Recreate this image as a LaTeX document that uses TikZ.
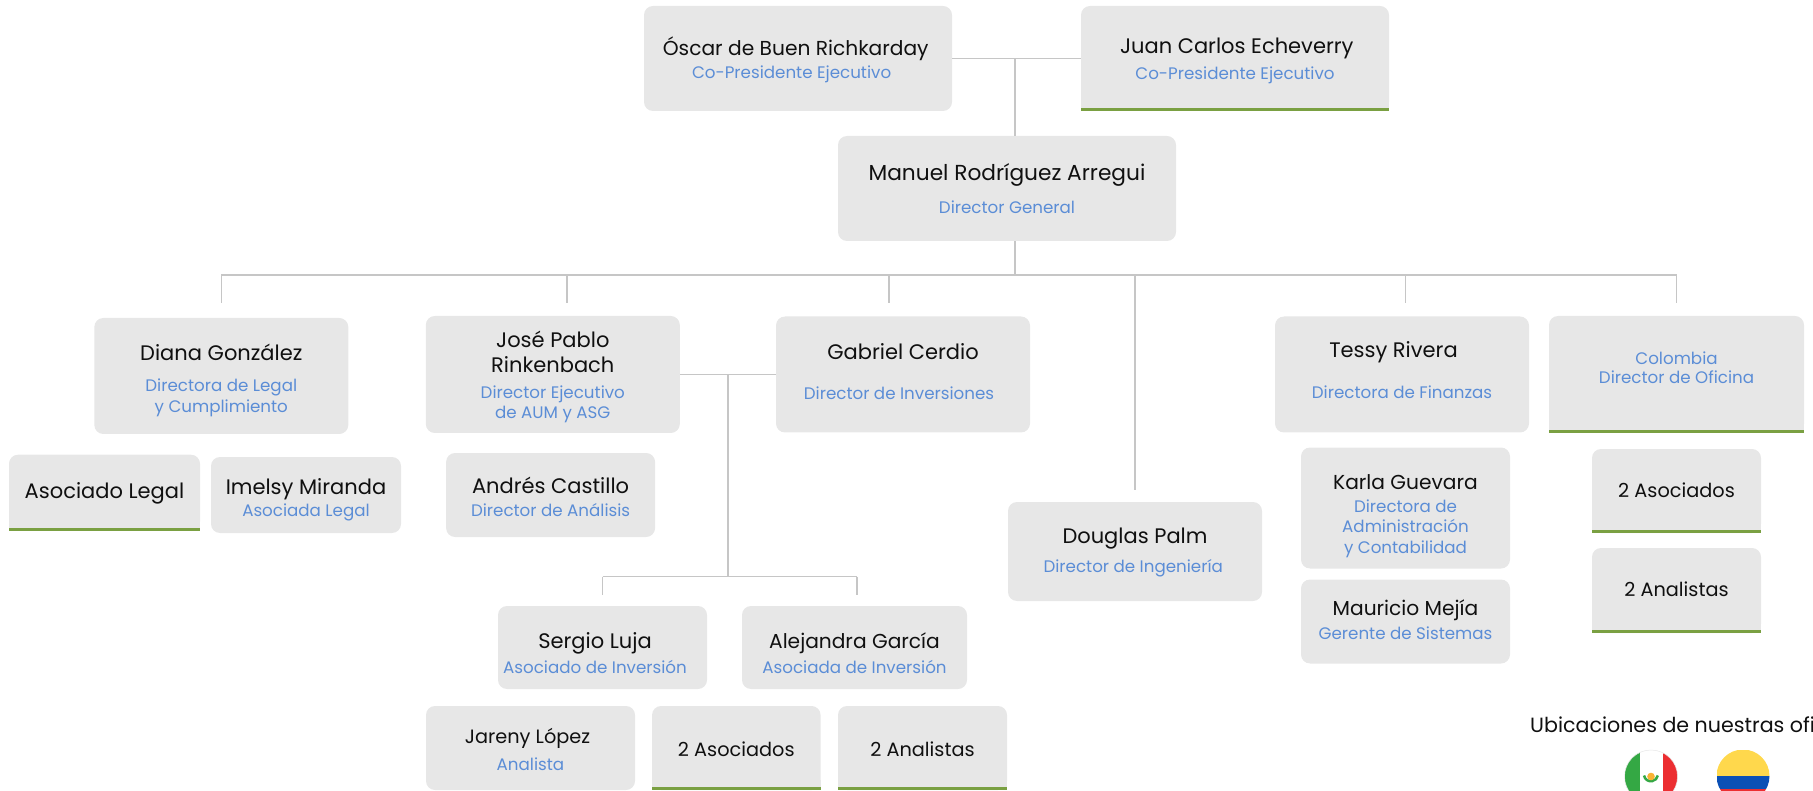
\documentclass[tikz,border=0pt]{standalone}
\usepackage{xcolor}
\usepackage{fontspec}
\setmainfont{Poppins}
\usepackage{tikz}
\usetikzlibrary{calc, positioning}
\definecolor{boxgray}{HTML}{E7E7E7}
\definecolor{bargreen}{HTML}{7AA042}
\definecolor{roleblue}{HTML}{5B8DD6}
\definecolor{linegray}{HTML}{C6C6C6}
\definecolor{namecolor}{HTML}{101010}
\definecolor{flaggreen}{HTML}{34A844}
\definecolor{flagred}{HTML}{EC2E31}
\definecolor{flagyellow}{HTML}{FFD84C}
\definecolor{flagblue}{HTML}{0B50B5}
\definecolor{flagorange}{HTML}{F9B233}
\newcommand{\namefont}{\fontsize{21}{26}\selectfont}
\newcommand{\bigname}{\fontsize{21.7}{26}\selectfont}
\newcommand{\midname}{\fontsize{20.2}{25}\selectfont}
\newcommand{\lowname}{\fontsize{19.3}{24}\selectfont}
\newcommand{\rolefont}{\color{roleblue}\fontsize{16.7}{20}\selectfont}
\newcommand{\downtext}[2]{\raisebox{0pt}[\dimexpr\height+2\dimexpr#1\relax\relax]{#2}}
\newcommand{\uptext}[2]{\raisebox{0pt}[\height][\dimexpr\depth+2\dimexpr#1\relax\relax]{#2}}
\tikzset{
    boxnode/.style = {draw=none, fill=boxgray, rectangle, rounded corners=0.9em, inner sep = 0em,
      node distance=0em, font=\namefont, text=namecolor},
    textnode/.style = {draw=none, fill=none, rectangle, inner sep = 0em, node distance=0em,
      font=\fontsize{20.6}{25}\selectfont, text=namecolor},
    flagnode/.style = {draw=none, circle, minimum size=5.3em, inner sep = 0em, node distance=0em},
    connect/.style = {draw=linegray, line width=1.5pt, line cap=square, -},
    every text node part/.style={align=center}
}
\begin{document}
\begin{tikzpicture}
    \path[use as bounding box, clip] (0em, 0em) rectangle (181.3em, -79.1em);

    \node [name=oscar, boxnode, font=\midname, minimum width=30.8em, minimum height=10.5em] at (79.8em, -5.85em) {\hspace*{-4.6pt}\downtext{1.2pt}{\'Oscar de Buen Richkarday}\\[-1.7pt]\rolefont\hspace*{-12.8pt}Co-Presidente Ejecutivo};
    \node [name=juan, boxnode, minimum width=30.8em, minimum height=10.5em, right of=oscar, xshift=43.7em] {\hspace*{3.5pt}\downtext{2.3pt}{Juan Carlos Echeverry}\\[-0.4pt]\rolefont Co-Presidente Ejecutivo};
    \node [name=manuel, boxnode, font=\bigname, minimum width=33.8em, minimum height=10.5em, below of=oscar, xshift=20.9em, yshift=-13em] {Manuel Rodr\'iguez Arregui\\[7.2pt]\rolefont Director General};

    \node [name=diana, boxnode, minimum width=25.4em, minimum height=11.6em, below of=manuel, xshift=-78.57em, yshift=-18.75em] {\downtext{4.4pt}{Diana Gonz\'alez}\\[5.6pt]\rolefont Directora de Legal\\[-5.4pt]\rolefont y Cumplimiento};
    \node [name=jose, boxnode, minimum width=25.4em, minimum height=11.7em, right of=diana, xshift=33.15em, yshift=0.15em] {\downtext{2.3pt}{Jos\'e Pablo}\\[-1.2pt]Rinkenbach\\\rolefont Director Ejecutivo\\[-6.4pt]\rolefont de AUM y ASG};
    \node [name=gabriel, boxnode, minimum width=25.4em, minimum height=11.6em, right of=jose, xshift=35.02em] {Gabriel Cerdio\\[13.8pt]\rolefont\hspace*{-8pt}\uptext{2.9pt}{Director de Inversiones}};
    \node [name=tessy, boxnode, minimum width=25.4em, minimum height=11.6em, right of=gabriel, xshift=49.9em] {\hspace*{-17pt}Tessy Rivera\\[14.9pt]\rolefont\uptext{4.6pt}{Directora de Finanzas}};
    \node [name=colombia, boxnode, minimum width=25.5em, minimum height=11.7em, right of=tessy, xshift=27.45em] {\rolefont Colombia\\[-6.4pt]\rolefont\uptext{6.9pt}{Director de Oficina}};
    \node [name=douglas, boxnode, minimum width=25.4em, minimum height=9.9em, below of=gabriel, xshift=23.2em, yshift=-17.7em] {\downtext{1.4pt}{Douglas Palm}\\[3pt]\rolefont\hspace*{-3.5pt}Director de Ingenier\'ia};

    \node [name=asoclegal, boxnode, minimum width=19.1em, minimum height=7.6em, below of=diana, xshift=-11.68em, yshift=-11.67em] {\downtext{1pt}{Asociado Legal}};
    \node [name=imelsy, boxnode, minimum width=19em, minimum height=7.6em, right of=asoclegal, xshift=20.15em, yshift=-0.23em] {\downtext{4.6pt}{Imelsy Miranda}\\[-4.2pt]\rolefont Asociada Legal};
    \node [name=andres, boxnode, minimum width=20.9em, minimum height=8.4em, below of=jose, xshift=-0.22em, yshift=-12.05em] {\downtext{1.7pt}{Andr\'es Castillo}\\[-3pt]\rolefont Director de An\'alisis};

    \node [name=sergio, boxnode, minimum width=20.9em, minimum height=8.3em, below of=jose, xshift=4.97em, yshift=-27.3em] {\hspace*{-15pt}\downtext{5.8pt}{Sergio Luja}\\[-1pt]\rolefont\hspace*{-15pt}Asociado de Inversi\'on};
    \node [name=alejandra, boxnode, font=\midname, minimum width=22.5em, minimum height=8.3em, right of=sergio, xshift=25.2em] {\downtext{5.8pt}{Alejandra Garc\'ia}\\[0.3pt]\rolefont Asociada de Inversi\'on};
    \node [name=jareny, boxnode, font=\lowname, minimum width=20.9em, minimum height=8.4em, below of=sergio, xshift=-7.2em, yshift=-10.05em] {\hspace*{-6pt}\downtext{1.7pt}{Jareny L\'opez}\\[2.7pt]\rolefont Analista};
    \node [name=asocb, boxnode, font=\lowname, minimum width=16.85em, minimum height=8.4em, right of=jareny, xshift=20.58em] {\downtext{1.4pt}{2 Asociados}};
    \node [name=analb, boxnode, font=\lowname, minimum width=16.9em, minimum height=8.4em, right of=asocb, xshift=18.62em] {\downtext{1.4pt}{2 Analistas}};

    \node [name=karla, boxnode, font=\midname, minimum width=20.9em, minimum height=12.1em, below of=tessy, xshift=0.35em, yshift=-13.35em] {\downtext{8.2pt}{Karla Guevara}\\[-2.6pt]\rolefont Directora de\\[-4.4pt]\rolefont Administraci\'on\\[-4.4pt]\rolefont y Contabilidad};
    \node [name=mauricio, boxnode, font=\midname, minimum width=20.9em, minimum height=8.4em, below of=karla, yshift=-11.35em] {Mauricio Mej\'ia\\[-0.9pt]\rolefont\uptext{1.7pt}{Gerente de Sistemas}};
    \node [name=asocc, boxnode, font=\lowname, minimum width=16.9em, minimum height=8.4em, below of=colombia, yshift=-11.65em] {\uptext{1.2pt}{2 Asociados}};
    \node [name=analc, boxnode, font=\lowname, minimum width=16.9em, minimum height=8.5em, below of=asocc, yshift=-9.95em] {\uptext{1.2pt}{2 Analistas}};

    % square bottom and green edge
    \foreach \n in {juan, colombia, asoclegal, asocb, analb, asocc, analc} {
      \fill[boxgray] ($(\n.south west)+(0em, 1em)$) rectangle (\n.south east);
      \fill[bargreen] ($(\n.south west)+(0em, 0.3em)$) rectangle (\n.south east);
    }

    \node [name=ubicaciones, textnode, anchor=base west] at (153em, -73.2em) {Ubicaciones de nuestras ofi};
    \node [name=flagmx, flagnode, draw=boxgray, line width=0.5pt] at (165.1em, -77.65em) [path picture={
      \fill[white] (path picture bounding box.south west) rectangle (path picture bounding box.north east);
      \fill[flaggreen] (path picture bounding box.south west) rectangle ($(path picture bounding box.north west)+(1.5em, 0em)$);
      \fill[flagred] ($(path picture bounding box.south east)+(-1.45em, 0em)$) rectangle (path picture bounding box.north east);
      \draw[flaggreen, line width=0.25em] ($(path picture bounding box.center)+(-0.7em, 0.1em)$) arc[start angle=190, end angle=350, radius=0.7em];
      \fill[flagorange] (path picture bounding box.center) circle (0.38em);
    }] {};
    \node [name=flagco, flagnode, right of=flagmx, xshift=9.2em, yshift=0.05em, path picture={
      \fill[flagyellow] (path picture bounding box.north west) rectangle (path picture bounding box.east);
      \fill[flagblue] (path picture bounding box.west) rectangle ($(path picture bounding box.east)+(0em, -1.25em)$);
      \fill[flagred] ($(path picture bounding box.west)+(0em, -1.25em)$) rectangle (path picture bounding box.south east);
    }] {};

    % lines at the top
    \coordinate (topj) at ($(oscar.east)+(6.3em, 0em)$);
    \coordinate (bus) at ($(manuel.south)+(0.8em, -3.4em)$);
    \draw (oscar.east) edge[connect] (juan.west);
    \draw (topj) edge[connect] (topj |- manuel.north);
    \draw (topj |- manuel.south) edge[connect] (topj |- bus);

    % the long line and what hangs from it
    \coordinate (dianaend) at ($(diana.north)+(0em, 1.5em)$);
    \coordinate (joseend) at ($(jose.north)+(1.4em, 1.3em)$);
    \coordinate (gabrielend) at ($(gabriel.north)+(-1.4em, 1.3em)$);
    \coordinate (douglasend) at ($(douglas.north)+(0em, 1.2em)$);
    \coordinate (tessyend) at ($(tessy.north)+(0.35em, 1.3em)$);
    \coordinate (colombiaend) at ($(colombia.north)+(0em, 1.3em)$);
    \draw (dianaend |- bus) edge[connect] (colombiaend |- bus);
    \draw (dianaend |- bus) edge[connect] (dianaend);
    \draw (joseend |- bus) edge[connect] (joseend);
    \draw (gabrielend |- bus) edge[connect] (gabrielend);
    \draw (douglasend |- bus) edge[connect] (douglasend);
    \draw (tessyend |- bus) edge[connect] (tessyend);
    \draw (colombiaend |- bus) edge[connect] (colombiaend);

    % between jose and gabriel
    \coordinate (midj) at ($(jose.east)+(4.82em, 0em)$);
    \coordinate (lowj) at ($(midj)+(0em, -20.2em)$);
    \coordinate (sergioend) at ($(sergio.north)+(0em, 1.1em)$);
    \coordinate (alejandraend) at ($(alejandra.north)+(0.25em, 1.1em)$);
    \draw (jose.east) edge[connect] (gabriel.west);
    \draw (midj) edge[connect] (lowj);
    \draw (sergioend |- lowj) edge[connect] (alejandraend |- lowj);
    \draw (sergioend |- lowj) edge[connect] (sergioend);
    \draw (alejandraend |- lowj) edge[connect] (alejandraend);
\end{tikzpicture}
\end{document}
